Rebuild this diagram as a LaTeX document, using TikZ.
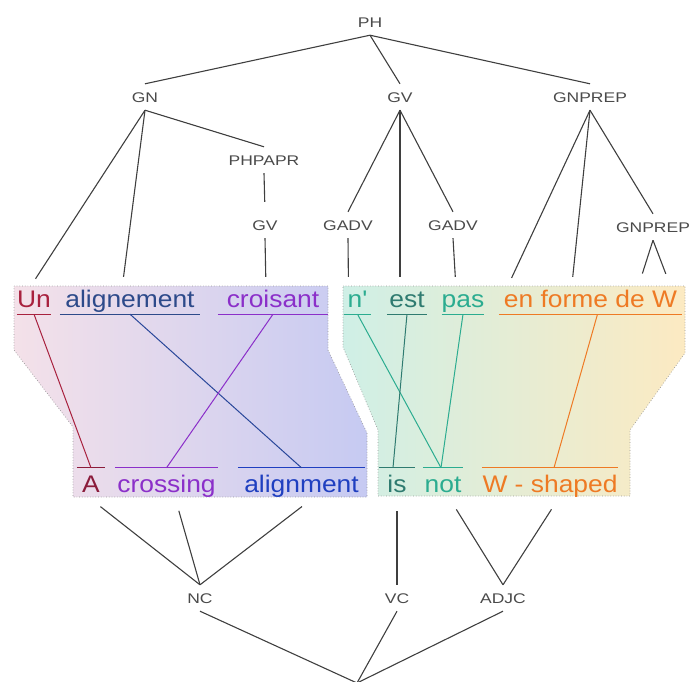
\documentclass[tikz,border=0pt]{standalone}
\usepackage{fontspec}
\setmainfont{Liberation Sans}
\newfontfamily\treefont[FakeStretch=1.25]{Liberation Sans}
\newfontfamily\wordfont[FakeStretch=1.1]{Liberation Sans}
\usepackage{tikz}
\usetikzlibrary{calc}

\definecolor{unred}{HTML}{A8213E}
\definecolor{ared}{HTML}{8B1C3B}
\definecolor{slateblue}{HTML}{2D4A8A}
\definecolor{brightblue}{HTML}{1F3FC0}
\definecolor{purp}{HTML}{8B2FC9}
\definecolor{tealA}{HTML}{2BAC90}
\definecolor{tealB}{HTML}{2F7B70}
\definecolor{orng}{HTML}{EE7A24}
\definecolor{treegray}{HTML}{4A4A4A}
\definecolor{boxpink}{HTML}{F4E1E9}
\definecolor{boxmauve}{HTML}{E6E3F3}
\definecolor{boxblue}{HTML}{C6CAF2}
\definecolor{boxteal}{HTML}{CFEFE6}
\definecolor{boxmint}{HTML}{E8F5EC}
\definecolor{boxyellow}{HTML}{FCEAC2}

\begin{document}
\begin{tikzpicture}[
    x=1pt,
    y=-1pt,
    tree/.style={
        font=\treefont\fontsize{14pt}{16pt}\selectfont,
        text=treegray,
        inner xsep=2pt,
        inner ysep=8pt,
        text height=10pt,
        text depth=0pt
      },
    topword/.style={
        font=\wordfont\fontsize{24pt}{28pt}\selectfont,
        text=#1,
        inner sep=0pt,
        text height=18pt,
        text depth=7pt,
        anchor=base
      },
    botword/.style={
        topword=#1,
        text height=24pt
      },
    branch/.style={draw=treegray!85!black,line width=1.1pt},
    link/.style={draw=#1,line width=1pt},
    panel/.style={draw=gray!80,dotted,line width=0.7pt}
    ]

    \useasboundingbox (0,0) rectangle (691,681);

    % shaded panels
    \path[panel,left color=boxpink,middle color=boxmauve,right color=boxblue]
      (14,286) -- (328,286) -- (328,350) -- (367,433) -- (367,497)
      -- (73,497) -- (73,427) -- (14,350) -- cycle;
    \path[panel,left color=boxteal,middle color=boxmint,right color=boxyellow]
      (343,286) -- (685,286) -- (685,353) -- (630,430) -- (630,496)
      -- (378,496) -- (378,430) -- (343,347) -- cycle;

    % french words
    \node[topword=unred,minimum width=34pt] (un) at (34,307) {Un};
    \node[topword=slateblue,minimum width=140pt] (alignfr) at (130,307) {alignement};
    \node[topword=purp,minimum width=110pt] (croisant) at (273,307) {croisant};
    \node[topword=tealA,minimum width=27pt] (ne) at (357.5,307) {n'};
    \node[topword=tealB,minimum width=40pt] (est) at (407,307) {est};
    \node[topword=tealA,minimum width=40pt] (pas) at (463,307) {pas};
    \node[topword=orng,minimum width=183pt] (enforme) at (590.5,307) {en forme de W};

    % english words
    \node[botword=ared,minimum width=28pt] (a) at (91,492) {A};
    \node[botword=purp,minimum width=103pt] (crossing) at (166.5,492) {crossing};
    \node[botword=brightblue,minimum width=127pt] (alignen) at (301.5,492) {alignment};
    \node[botword=tealB,minimum width=36pt] (is) at (397,492) {is};
    \node[botword=tealA,minimum width=40pt] (not) at (443,492) {not};
    \node[botword=orng,minimum width=136pt] (wshaped) at (550,492) {W - shaped};

    \foreach \w/\c in {un/unred,alignfr/slateblue,croisant/purp,ne/tealA,
        est/tealB,pas/tealA,enforme/orng}
      \draw[\c,line width=1.3pt] (\w.south west) -- (\w.south east);
    \foreach \w/\c in {a/ared,crossing/purp,alignen/brightblue,is/tealB,
        not/tealA,wshaped/orng}
      \draw[\c,line width=1.3pt] (\w.north west) -- (\w.north east);

    % word alignment
    \draw[link=unred] (un.south) -- (a.north);
    \draw[link=slateblue!70!brightblue] (alignfr.south) -- (alignen.north);
    \draw[link=purp] (croisant.south) -- (crossing.north);
    \draw[link=tealA] (ne.south) -- ([xshift=-2pt]not.north);
    \draw[link=tealB] (est.south) -- ([xshift=-4pt]is.north);
    \draw[link=tealA] (pas.south) -- ([xshift=-2pt]not.north);
    \draw[link=orng] ([xshift=7pt]enforme.south) -- ([xshift=4pt]wshaped.north);

    % french tree
    \node[tree] (ph) at (370,22) {PH};
    \node[tree] (gn) at (145,97) {GN};
    \node[tree] (gv) at (400,97) {GV};
    \node[tree] (gnprep) at (590,97) {GNPREP};
    \node[tree] (phpapr) at (264,160) {PHPAPR};
    \node[tree] (gvb) at (265,225) {GV};
    \node[tree] (gadva) at (348,225) {GADV};
    \node[tree] (gadvb) at (453,225) {GADV};
    \node[tree] (gnprepb) at (653,227) {GNPREP};

    \draw[branch] (ph.south) -- (gn.north);
    \draw[branch] (ph.south) -- (gv.north);
    \draw[branch] (ph.south) -- (gnprep.north);
    \draw[branch] (gn.south) -- (phpapr.north);
    \draw[branch,shorten >=10pt] (phpapr.south) -- (gvb.north);
    \draw[branch] (gv.south) -- (gadva.north);
    \draw[branch] (gv.south) -- (gadvb.north);
    \draw[branch] (gnprep.south) -- (gnprepb.north);

    \draw[branch,shorten >=12pt] (gn.south) -- ([xshift=-5pt]un.north);
    \draw[branch,shorten >=12pt] (gn.south) -- ([xshift=-8pt]alignfr.north);
    \draw[branch,shorten >=12pt] (gvb.south) -- ([xshift=-7pt]croisant.north);
    \draw[branch,shorten >=12pt] (gadva.south) -- ([xshift=-9pt]ne.north);
    \draw[branch,shorten >=12pt] (gv.south) -- ([xshift=-7pt]est.north);
    \draw[branch,shorten >=12pt] (gadvb.south) -- ([xshift=-7pt]pas.north);
    \draw[branch,shorten >=12pt] (gnprep.south) -- ([xshift=-84pt]enforme.north);
    \draw[branch,shorten >=12pt] (gnprep.south) -- ([xshift=-19pt]enforme.north);
    \draw[branch,shorten >=16pt] (gnprepb.south) -- ([xshift=47pt]enforme.north);
    \draw[branch,shorten >=16pt] (gnprepb.south) -- ([xshift=81pt]enforme.north);

    % english tree
    \node[tree] (nc) at (200,598) {NC};
    \node[tree] (vc) at (397,598) {VC};
    \node[tree] (adjc) at (503,598) {ADJC};
    \coordinate (root) at (357,683);

    \draw[branch,shorten <=12pt] (a.south) -- (nc.north);
    \draw[branch,shorten <=12pt] ([xshift=9pt]crossing.south) -- (nc.north);
    \draw[branch,shorten <=12pt] ([xshift=10pt]alignen.south) -- (nc.north);
    \draw[branch,shorten <=12pt] (is.south) -- (vc.north);
    \draw[branch,shorten <=12pt] ([xshift=7pt]not.south) -- (adjc.north);
    \draw[branch,shorten <=12pt] ([xshift=8pt]wshaped.south) -- (adjc.north);
    \draw[branch] (nc.south) -- (root);
    \draw[branch] (vc.south) -- (root);
    \draw[branch] (adjc.south) -- (root);

  \end{tikzpicture}
\end{document}
